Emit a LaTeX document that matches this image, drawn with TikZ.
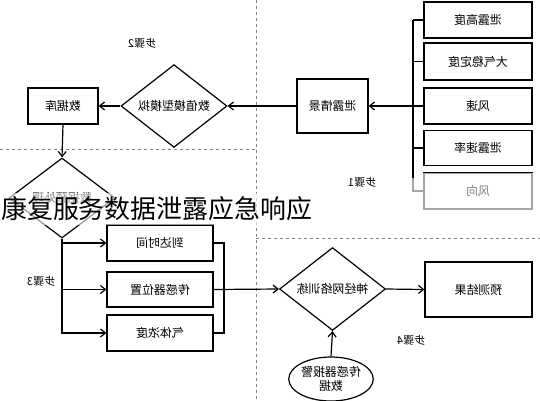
\documentclass[tikz,border=0pt]{standalone}
\usepackage{fontspec}
\usepackage{graphicx}
\newfontfamily\cjk{Noto Sans CJK SC}
\usetikzlibrary{shapes.geometric,arrows.meta}
\newcommand\mr[1]{\reflectbox{#1}}
\tikzset{
  box/.style={draw, line width=1.2bp, rectangle, inner sep=0, font=\cjk\fontsize{12}{14}\selectfont},
  dia/.style={draw, line width=1.2bp, diamond, inner sep=0, minimum width=106bp, minimum height=80bp, font=\cjk\fontsize{12}{14}\selectfont},
  steplbl/.style={font=\cjk\fontsize{11}{13}\selectfont, inner sep=1bp},
  conn/.style={line width=1.2bp},
  arr/.style={line width=1.2bp, -{Straight Barb[length=5bp,width=8bp]}},
  divider/.style={gray, line width=0.8bp, dash pattern=on 3bp off 3bp},
}
\begin{document}
\begin{tikzpicture}[x=1bp,y=-1bp]
\useasboundingbox (0,0) rectangle (540,400);
\fill[white] (0,0) rectangle (540,400);
% dividers
\draw[divider] (256,0) -- (256,400);
\draw[divider] (0,149) -- (256,149);
\draw[divider] (256,238) -- (540,238);
% step 1 boxes
\node[box, minimum width=108bp, minimum height=36bp] (b1) at (478,20) {\mr{泄露高度}};
\node[box, minimum width=108bp, minimum height=37bp] (b2) at (478,61.5) {\mr{大气稳定度}};
\node[box, minimum width=108bp, minimum height=36bp] (b3) at (478,106) {\mr{风速}};
\node[box, minimum width=108bp, minimum height=35bp] (b4) at (478,148) {\mr{泄露速率}};
\node[box, draw=gray!70, text=gray, minimum width=108bp, minimum height=36bp] (b5) at (478,191) {\mr{风向}};
\draw[line width=1.2bp] (b5.north west) -- (b5.north east);
\node[box, minimum width=71bp, minimum height=54bp] (qj) at (332.5,106) {\mr{泄露情景}};
\coordinate (busT) at (413,20);
\coordinate (busM) at (413,178);
\coordinate (busB) at (413,191);
\draw[conn] (busT) -- (busM);
\draw[conn, gray!70] (busM) -- (busB) -- (b5.west);
\draw[conn] (b1.west) -- (busT);
\draw[conn] (b2.west) -- (b2.west -| busT);
\draw[conn] (b4.west) -- (b4.west -| busT);
\draw[arr] (b3.west) -- (qj.east);
\node[steplbl] (s1) at (362,182) {\mr{步骤1}};
% step 2
\node[dia] (d1) at (174,106) {\mr{数值模型模拟}};
\node[box, minimum width=70bp, minimum height=36bp] (db) at (63,106) {\mr{数据库}};
\draw[arr] (qj.west) -- (d1.east);
\draw[arr] (d1.west) -- (db.east);
\node[steplbl] (s2) at (142,43) {\mr{步骤2}};
% step 3
\node[dia] (d2) at (62,198) {\mr{数据预处理}};
\draw[arr] (db.south) -- (d2.north);
\node[box, minimum width=106bp, minimum height=36bp] (c1) at (160,243) {\mr{到达时间}};
\node[box, minimum width=106bp, minimum height=35bp] (c2) at (160,289.5) {\mr{传感器位置}};
\node[box, minimum width=106bp, minimum height=36bp] (c3) at (160,333) {\mr{气体浓度}};
\draw[arr] (d2.south) |- (c3.west);
\draw[arr] (c1.west -| d2.south) -- (c1.west);
\draw[arr] (c2.west -| d2.south) -- (c2.west);
\coordinate (rT) at (224,243);
\coordinate (rB) at (224,333);
\draw[conn] (c1.east) -- (rT) -- (rB) -- (c3.east);
\node[steplbl] (s3) at (41,281) {\mr{步骤3}};
% step 4
\node[dia] (d3) at (332.5,289) {\mr{神经网络训练}};
\draw[arr] (c2.east) -- (d3.west);
\node[box, minimum width=107bp, minimum height=55bp] (res) at (478.5,289.5) {\mr{预测结果}};
\draw[arr] (d3.east) -- (res.west);
\node[draw, line width=1.2bp, ellipse, inner sep=0, minimum width=84bp, minimum height=44bp, font=\cjk\fontsize{12}{14}\selectfont] (el) at (331,379) {\mr{\shortstack{传感器报警\\数据}}};
\draw[arr] (el.north) -- (d3.south);
\node[steplbl] (s4) at (411,340) {\mr{步骤4}};
% title overlay
\node[anchor=west, fill=white, fill opacity=0.6, text opacity=1, inner xsep=1bp, inner ysep=4bp, font=\cjk\fontsize{26}{30}\selectfont] (title) at (0,209) {康复服务数据泄露应急响应};
\end{tikzpicture}
\end{document}
